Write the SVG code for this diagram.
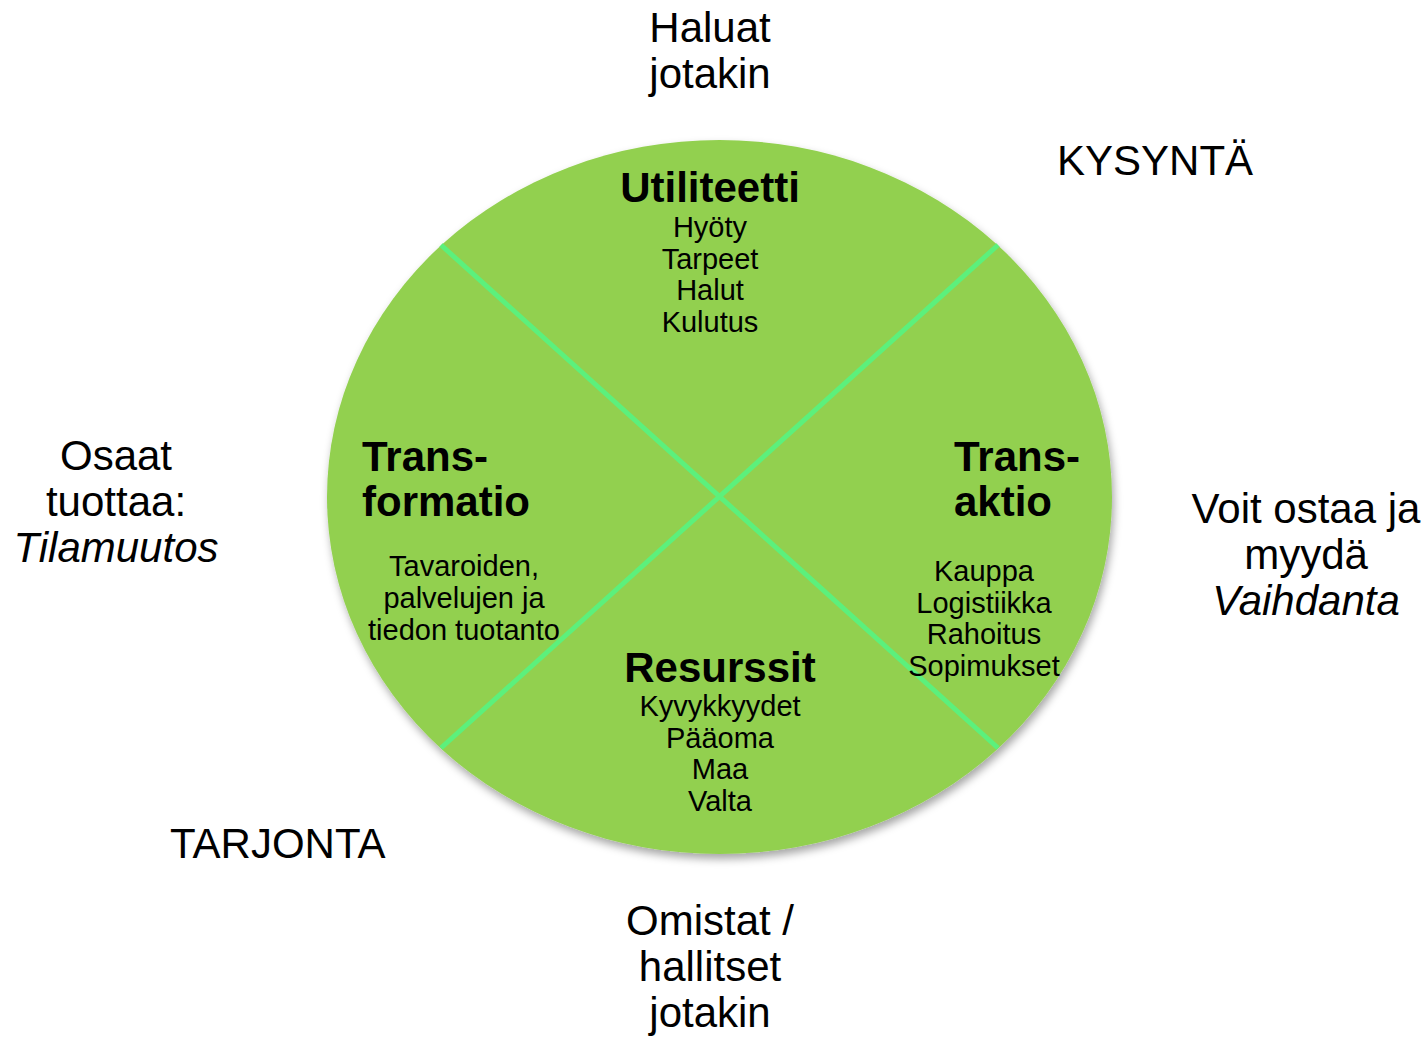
<svg xmlns="http://www.w3.org/2000/svg" width="1427" height="1037" viewBox="0 0 1427 1037">
<defs>
<filter id="sh" x="-10%" y="-10%" width="120%" height="125%">
<feDropShadow dx="2" dy="5" stdDeviation="4" flood-color="#000" flood-opacity="0.35"/>
</filter>
</defs>
<style>
text{font-family:"Liberation Sans",Arial,sans-serif;fill:#000}
.o{font-size:42px}
.t{font-size:42px;font-weight:bold}
.s{font-size:29px}
.c{text-anchor:middle}
.i{font-style:italic}
.ln{stroke:#5CF07C;stroke-width:5;fill:none}
</style>
<rect width="1427" height="1037" fill="#fff"/>
<g id="circle">
<ellipse cx="719.5" cy="497" rx="392.5" ry="357" fill="#92D050" filter="url(#sh)"/>
</g>
<g id="connectors">
<line class="ln" x1="441" y1="245" x2="998" y2="748"/>
<line class="ln" x1="998" y1="245" x2="441" y2="748"/>
</g>
<g id="utiliteetti">
<text class="t c" x="710" y="202">Utiliteetti</text>
<text class="s c" x="710" y="237">Hyöty</text>
<text class="s c" x="710" y="269">Tarpeet</text>
<text class="s c" x="710" y="300">Halut</text>
<text class="s c" x="710" y="332">Kulutus</text>
</g>
<g id="transformatio">
<text class="t" x="362" y="471">Trans-</text>
<text class="t" x="362" y="516">formatio</text>
<text class="s c" x="464" y="576">Tavaroiden,</text>
<text class="s c" x="464" y="608">palvelujen ja</text>
<text class="s c" x="464" y="640">tiedon tuotanto</text>
</g>
<g id="transaktio">
<text class="t" x="954" y="471">Trans-</text>
<text class="t" x="954" y="516">aktio</text>
<text class="s c" x="984" y="581">Kauppa</text>
<text class="s c" x="984" y="613">Logistiikka</text>
<text class="s c" x="984" y="644">Rahoitus</text>
<text class="s c" x="984" y="676">Sopimukset</text>
</g>
<g id="resurssit">
<text class="t c" x="720" y="682">Resurssit</text>
<text class="s c" x="720" y="716">Kyvykkyydet</text>
<text class="s c" x="720" y="748">Pääoma</text>
<text class="s c" x="720" y="779">Maa</text>
<text class="s c" x="720" y="811">Valta</text>
</g>
<g id="haluat">
<text class="o c" x="710" y="42">Haluat</text>
<text class="o c" x="710" y="88">jotakin</text>
</g>
<g id="kysynta">
<text class="o" x="1057" y="175">KYSYNTÄ</text>
</g>
<g id="osaat">
<text class="o c" x="116" y="470">Osaat</text>
<text class="o c" x="116" y="516">tuottaa:</text>
<text class="o c i" x="116" y="562">Tilamuutos</text>
</g>
<g id="voit">
<text class="o c" x="1306" y="523">Voit ostaa ja</text>
<text class="o c" x="1306" y="569">myydä</text>
<text class="o c i" x="1306" y="615">Vaihdanta</text>
</g>
<g id="tarjonta">
<text class="o" x="170" y="858">TARJONTA</text>
</g>
<g id="omistat">
<text class="o c" x="710" y="935">Omistat /</text>
<text class="o c" x="710" y="981">hallitset</text>
<text class="o c" x="710" y="1027">jotakin</text>
</g>
</svg>
